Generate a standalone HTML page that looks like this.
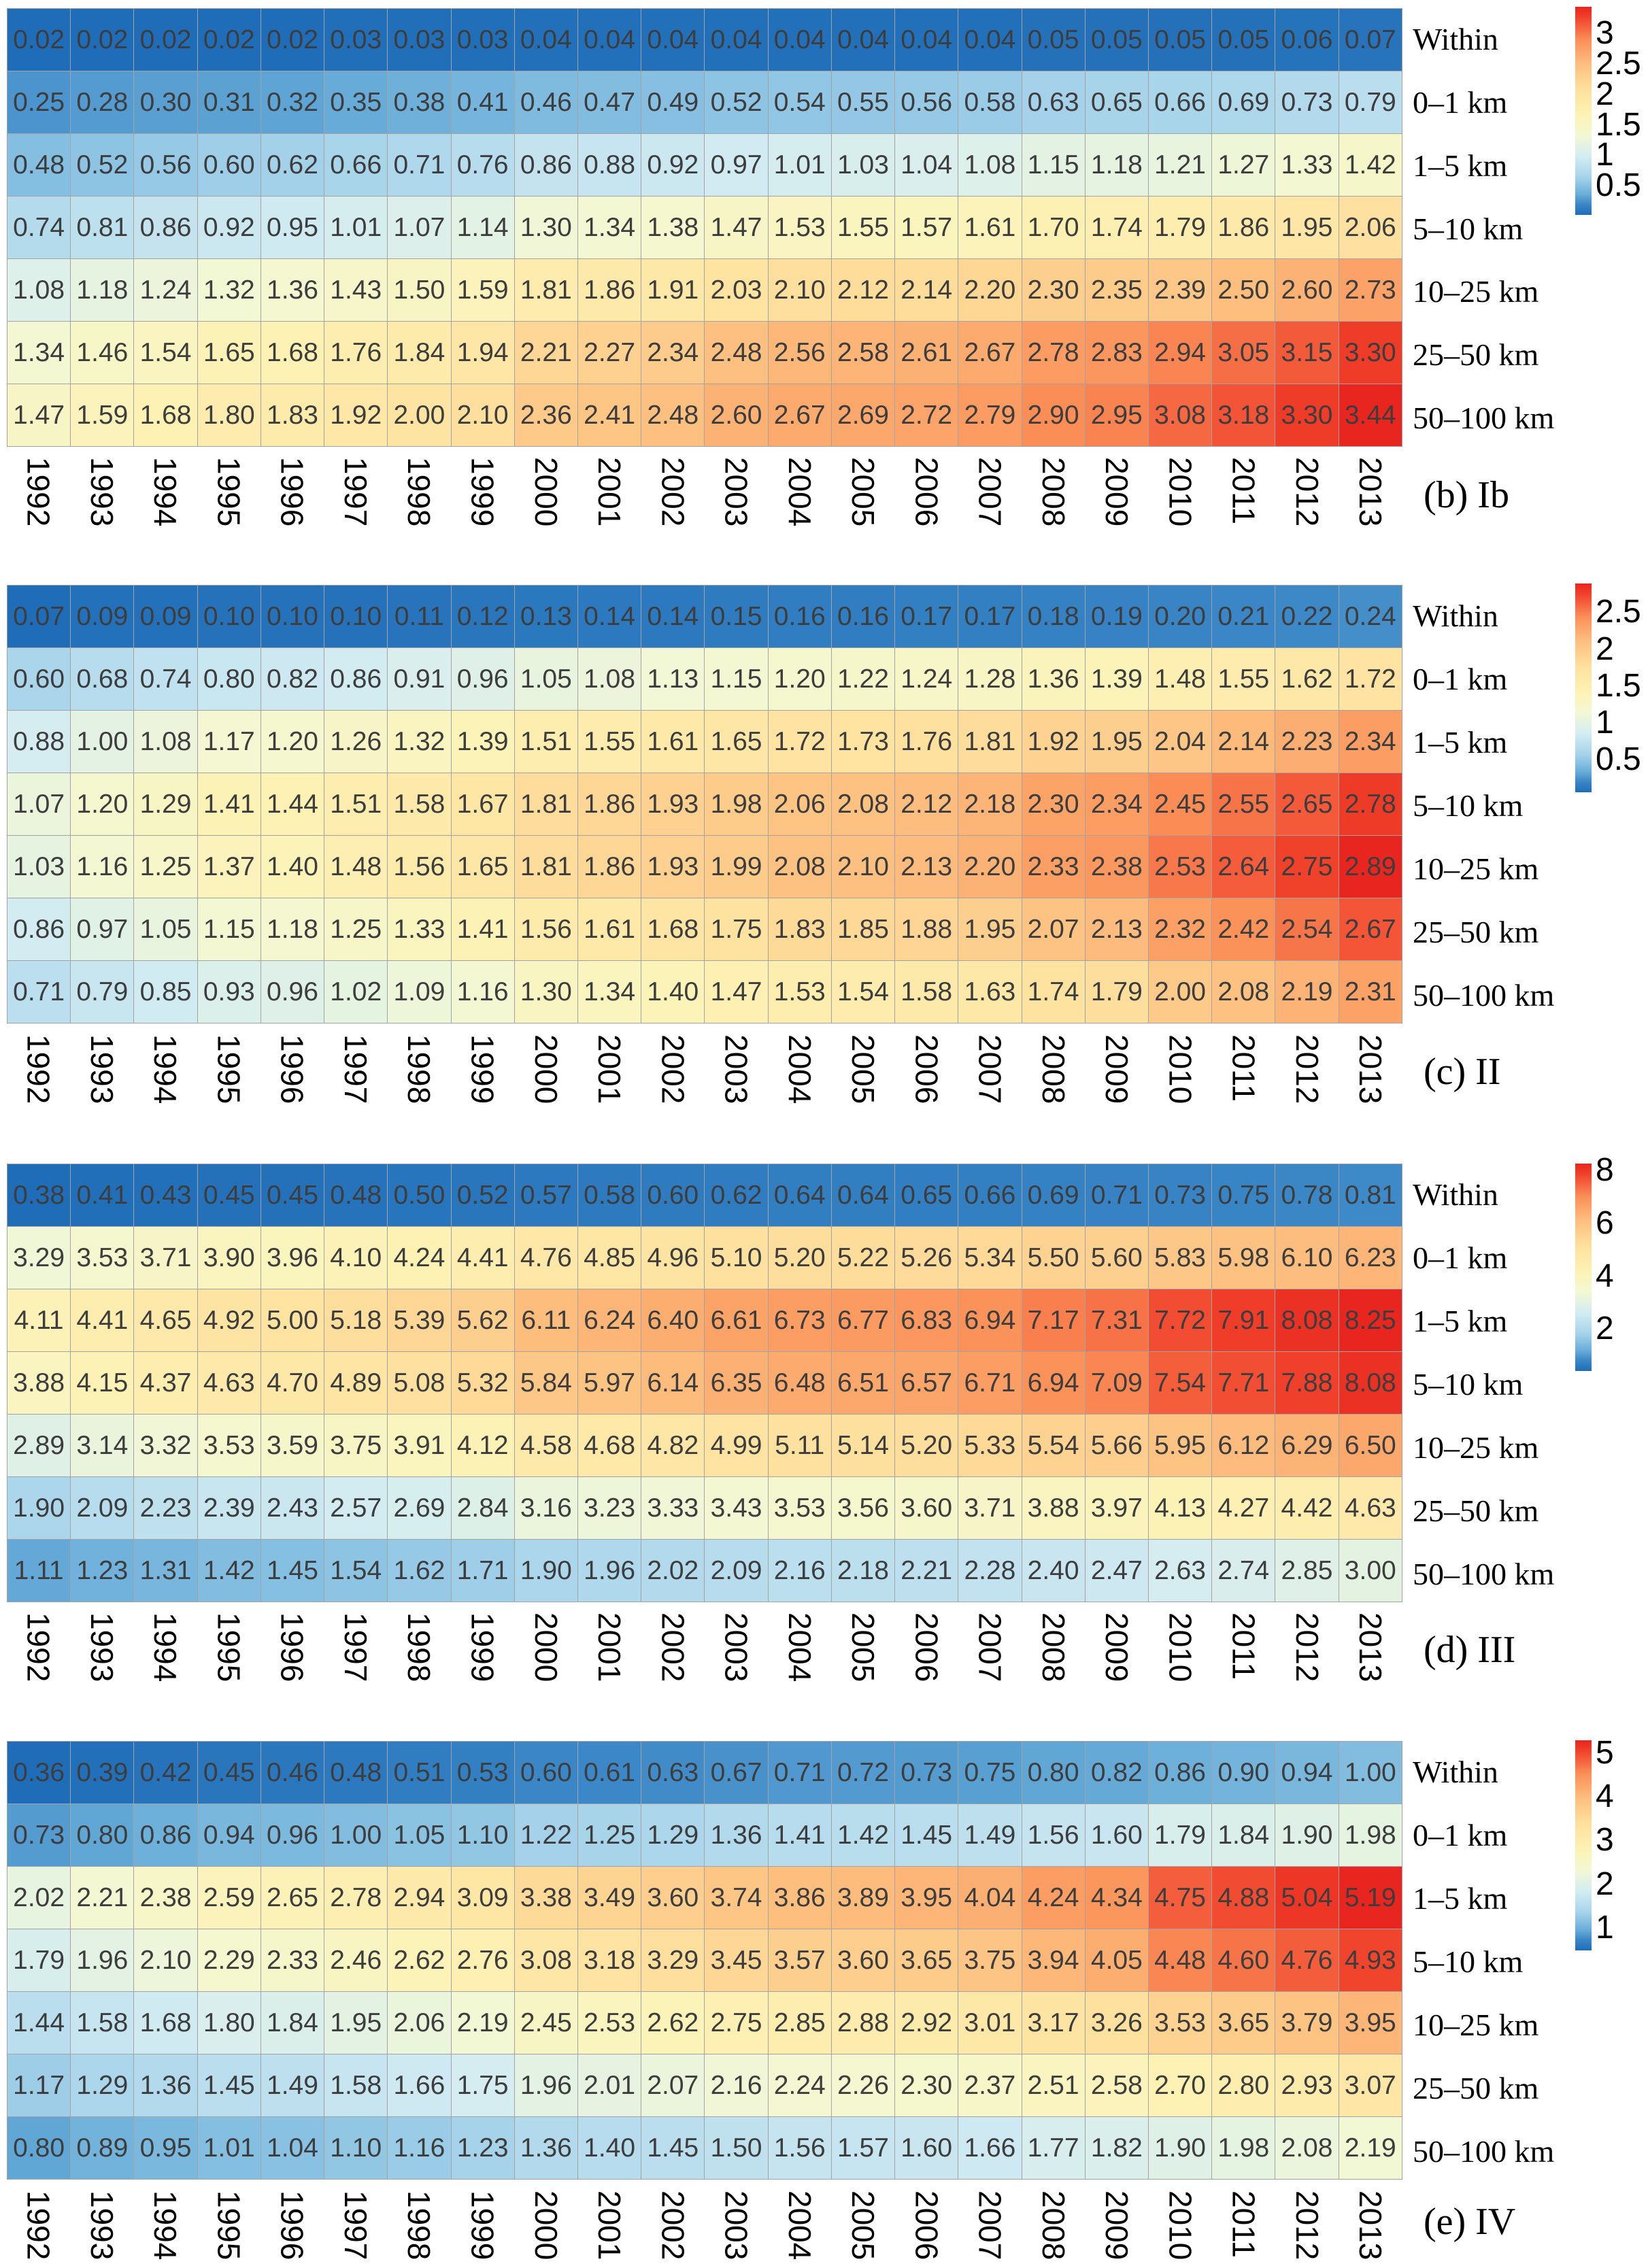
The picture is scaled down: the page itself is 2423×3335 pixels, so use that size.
<!DOCTYPE html>
<html><head><meta charset="utf-8">
<style>
html,body{margin:0;padding:0;background:#fff;}
body{width:2423px;height:3335px;position:relative;overflow:hidden;}
.grid{position:absolute;left:10px;width:2052px;border-collapse:collapse;table-layout:fixed;}
.grid td{border:1px solid #a3a3a3;height:91px;padding:0;text-align:center;vertical-align:middle;font-family:"Liberation Sans",sans-serif;font-size:39px;color:#3d3d3d;white-space:nowrap;overflow:hidden;}
.years{position:absolute;left:10px;width:2052px;display:flex;}
.years div{width:93.27px;display:flex;justify-content:center;}
.years span{writing-mode:vertical-rl;font-family:"Liberation Sans",sans-serif;font-size:46px;line-height:46px;color:#000;}
.rl{position:absolute;left:2077px;font-family:"Liberation Serif",serif;font-size:46px;line-height:50px;color:#000;white-space:nowrap;}
.pl{position:absolute;left:2093px;font-family:"Liberation Serif",serif;font-size:56px;line-height:60px;color:#000;white-space:nowrap;}
.cb{position:absolute;left:2316px;width:24px;background:linear-gradient(to top,#1f6db8 0%,#3a86c6 5%,#6aaed9 10%,#a6d3ea 18%,#d3ecf2 28%,#f3f8d4 38%,#fdf2b5 48%,#fee19f 60%,#fdc080 72%,#fb8f58 84%,#f0412b 95%,#e8251f 100%);}
.ct{position:absolute;left:2346px;font-family:"Liberation Sans",sans-serif;font-size:48px;line-height:44px;height:44px;color:#000;}
</style></head><body>

<!-- Panel 1 -->
<table class="grid" style="top:12px">
<tr><td>0.02</td><td>0.02</td><td>0.02</td><td>0.02</td><td>0.02</td><td>0.03</td><td>0.03</td><td>0.03</td><td>0.04</td><td>0.04</td><td>0.04</td><td>0.04</td><td>0.04</td><td>0.04</td><td>0.04</td><td>0.04</td><td>0.05</td><td>0.05</td><td>0.05</td><td>0.05</td><td>0.06</td><td>0.07</td></tr>
<tr><td>0.25</td><td>0.28</td><td>0.30</td><td>0.31</td><td>0.32</td><td>0.35</td><td>0.38</td><td>0.41</td><td>0.46</td><td>0.47</td><td>0.49</td><td>0.52</td><td>0.54</td><td>0.55</td><td>0.56</td><td>0.58</td><td>0.63</td><td>0.65</td><td>0.66</td><td>0.69</td><td>0.73</td><td>0.79</td></tr>
<tr><td>0.48</td><td>0.52</td><td>0.56</td><td>0.60</td><td>0.62</td><td>0.66</td><td>0.71</td><td>0.76</td><td>0.86</td><td>0.88</td><td>0.92</td><td>0.97</td><td>1.01</td><td>1.03</td><td>1.04</td><td>1.08</td><td>1.15</td><td>1.18</td><td>1.21</td><td>1.27</td><td>1.33</td><td>1.42</td></tr>
<tr><td>0.74</td><td>0.81</td><td>0.86</td><td>0.92</td><td>0.95</td><td>1.01</td><td>1.07</td><td>1.14</td><td>1.30</td><td>1.34</td><td>1.38</td><td>1.47</td><td>1.53</td><td>1.55</td><td>1.57</td><td>1.61</td><td>1.70</td><td>1.74</td><td>1.79</td><td>1.86</td><td>1.95</td><td>2.06</td></tr>
<tr><td>1.08</td><td>1.18</td><td>1.24</td><td>1.32</td><td>1.36</td><td>1.43</td><td>1.50</td><td>1.59</td><td>1.81</td><td>1.86</td><td>1.91</td><td>2.03</td><td>2.10</td><td>2.12</td><td>2.14</td><td>2.20</td><td>2.30</td><td>2.35</td><td>2.39</td><td>2.50</td><td>2.60</td><td>2.73</td></tr>
<tr><td>1.34</td><td>1.46</td><td>1.54</td><td>1.65</td><td>1.68</td><td>1.76</td><td>1.84</td><td>1.94</td><td>2.21</td><td>2.27</td><td>2.34</td><td>2.48</td><td>2.56</td><td>2.58</td><td>2.61</td><td>2.67</td><td>2.78</td><td>2.83</td><td>2.94</td><td>3.05</td><td>3.15</td><td>3.30</td></tr>
<tr><td>1.47</td><td>1.59</td><td>1.68</td><td>1.80</td><td>1.83</td><td>1.92</td><td>2.00</td><td>2.10</td><td>2.36</td><td>2.41</td><td>2.48</td><td>2.60</td><td>2.67</td><td>2.69</td><td>2.72</td><td>2.79</td><td>2.90</td><td>2.95</td><td>3.08</td><td>3.18</td><td>3.30</td><td>3.44</td></tr>
</table>
<div class="years" style="top:672px"><div><span>1992</span></div><div><span>1993</span></div><div><span>1994</span></div><div><span>1995</span></div><div><span>1996</span></div><div><span>1997</span></div><div><span>1998</span></div><div><span>1999</span></div><div><span>2000</span></div><div><span>2001</span></div><div><span>2002</span></div><div><span>2003</span></div><div><span>2004</span></div><div><span>2005</span></div><div><span>2006</span></div><div><span>2007</span></div><div><span>2008</span></div><div><span>2009</span></div><div><span>2010</span></div><div><span>2011</span></div><div><span>2012</span></div><div><span>2013</span></div></div>
<div class="rl" style="top:33px">Within</div>
<div class="rl" style="top:126px">0–1 km</div>
<div class="rl" style="top:219px">1–5 km</div>
<div class="rl" style="top:312px">5–10 km</div>
<div class="rl" style="top:404px">10–25 km</div>
<div class="rl" style="top:497px">25–50 km</div>
<div class="rl" style="top:590px">50–100 km</div>
<div class="pl" style="top:698px">(b) Ib</div>
<div class="cb" style="top:10px;height:306px"></div>
<div class="ct" style="top:27px">3</div>
<div class="ct" style="top:72px">2.5</div>
<div class="ct" style="top:117px">2</div>
<div class="ct" style="top:162px">1.5</div>
<div class="ct" style="top:206px">1</div>
<div class="ct" style="top:251px">0.5</div>

<!-- Panel 2 -->
<table class="grid" style="top:860px">
<tr><td>0.07</td><td>0.09</td><td>0.09</td><td>0.10</td><td>0.10</td><td>0.10</td><td>0.11</td><td>0.12</td><td>0.13</td><td>0.14</td><td>0.14</td><td>0.15</td><td>0.16</td><td>0.16</td><td>0.17</td><td>0.17</td><td>0.18</td><td>0.19</td><td>0.20</td><td>0.21</td><td>0.22</td><td>0.24</td></tr>
<tr><td>0.60</td><td>0.68</td><td>0.74</td><td>0.80</td><td>0.82</td><td>0.86</td><td>0.91</td><td>0.96</td><td>1.05</td><td>1.08</td><td>1.13</td><td>1.15</td><td>1.20</td><td>1.22</td><td>1.24</td><td>1.28</td><td>1.36</td><td>1.39</td><td>1.48</td><td>1.55</td><td>1.62</td><td>1.72</td></tr>
<tr><td>0.88</td><td>1.00</td><td>1.08</td><td>1.17</td><td>1.20</td><td>1.26</td><td>1.32</td><td>1.39</td><td>1.51</td><td>1.55</td><td>1.61</td><td>1.65</td><td>1.72</td><td>1.73</td><td>1.76</td><td>1.81</td><td>1.92</td><td>1.95</td><td>2.04</td><td>2.14</td><td>2.23</td><td>2.34</td></tr>
<tr><td>1.07</td><td>1.20</td><td>1.29</td><td>1.41</td><td>1.44</td><td>1.51</td><td>1.58</td><td>1.67</td><td>1.81</td><td>1.86</td><td>1.93</td><td>1.98</td><td>2.06</td><td>2.08</td><td>2.12</td><td>2.18</td><td>2.30</td><td>2.34</td><td>2.45</td><td>2.55</td><td>2.65</td><td>2.78</td></tr>
<tr><td>1.03</td><td>1.16</td><td>1.25</td><td>1.37</td><td>1.40</td><td>1.48</td><td>1.56</td><td>1.65</td><td>1.81</td><td>1.86</td><td>1.93</td><td>1.99</td><td>2.08</td><td>2.10</td><td>2.13</td><td>2.20</td><td>2.33</td><td>2.38</td><td>2.53</td><td>2.64</td><td>2.75</td><td>2.89</td></tr>
<tr><td>0.86</td><td>0.97</td><td>1.05</td><td>1.15</td><td>1.18</td><td>1.25</td><td>1.33</td><td>1.41</td><td>1.56</td><td>1.61</td><td>1.68</td><td>1.75</td><td>1.83</td><td>1.85</td><td>1.88</td><td>1.95</td><td>2.07</td><td>2.13</td><td>2.32</td><td>2.42</td><td>2.54</td><td>2.67</td></tr>
<tr><td>0.71</td><td>0.79</td><td>0.85</td><td>0.93</td><td>0.96</td><td>1.02</td><td>1.09</td><td>1.16</td><td>1.30</td><td>1.34</td><td>1.40</td><td>1.47</td><td>1.53</td><td>1.54</td><td>1.58</td><td>1.63</td><td>1.74</td><td>1.79</td><td>2.00</td><td>2.08</td><td>2.19</td><td>2.31</td></tr>
</table>
<div class="years" style="top:1521px"><div><span>1992</span></div><div><span>1993</span></div><div><span>1994</span></div><div><span>1995</span></div><div><span>1996</span></div><div><span>1997</span></div><div><span>1998</span></div><div><span>1999</span></div><div><span>2000</span></div><div><span>2001</span></div><div><span>2002</span></div><div><span>2003</span></div><div><span>2004</span></div><div><span>2005</span></div><div><span>2006</span></div><div><span>2007</span></div><div><span>2008</span></div><div><span>2009</span></div><div><span>2010</span></div><div><span>2011</span></div><div><span>2012</span></div><div><span>2013</span></div></div>
<div class="rl" style="top:881px">Within</div>
<div class="rl" style="top:974px">0–1 km</div>
<div class="rl" style="top:1067px">1–5 km</div>
<div class="rl" style="top:1160px">5–10 km</div>
<div class="rl" style="top:1253px">10–25 km</div>
<div class="rl" style="top:1346px">25–50 km</div>
<div class="rl" style="top:1439px">50–100 km</div>
<div class="pl" style="top:1546px">(c) II</div>
<div class="cb" style="top:858px;height:307px"></div>
<div class="ct" style="top:878px">2.5</div>
<div class="ct" style="top:933px">2</div>
<div class="ct" style="top:987px">1.5</div>
<div class="ct" style="top:1041px">1</div>
<div class="ct" style="top:1095px">0.5</div>

<!-- Panel 3 -->
<table class="grid" style="top:1711px">
<tr><td>0.38</td><td>0.41</td><td>0.43</td><td>0.45</td><td>0.45</td><td>0.48</td><td>0.50</td><td>0.52</td><td>0.57</td><td>0.58</td><td>0.60</td><td>0.62</td><td>0.64</td><td>0.64</td><td>0.65</td><td>0.66</td><td>0.69</td><td>0.71</td><td>0.73</td><td>0.75</td><td>0.78</td><td>0.81</td></tr>
<tr><td>3.29</td><td>3.53</td><td>3.71</td><td>3.90</td><td>3.96</td><td>4.10</td><td>4.24</td><td>4.41</td><td>4.76</td><td>4.85</td><td>4.96</td><td>5.10</td><td>5.20</td><td>5.22</td><td>5.26</td><td>5.34</td><td>5.50</td><td>5.60</td><td>5.83</td><td>5.98</td><td>6.10</td><td>6.23</td></tr>
<tr><td>4.11</td><td>4.41</td><td>4.65</td><td>4.92</td><td>5.00</td><td>5.18</td><td>5.39</td><td>5.62</td><td>6.11</td><td>6.24</td><td>6.40</td><td>6.61</td><td>6.73</td><td>6.77</td><td>6.83</td><td>6.94</td><td>7.17</td><td>7.31</td><td>7.72</td><td>7.91</td><td>8.08</td><td>8.25</td></tr>
<tr><td>3.88</td><td>4.15</td><td>4.37</td><td>4.63</td><td>4.70</td><td>4.89</td><td>5.08</td><td>5.32</td><td>5.84</td><td>5.97</td><td>6.14</td><td>6.35</td><td>6.48</td><td>6.51</td><td>6.57</td><td>6.71</td><td>6.94</td><td>7.09</td><td>7.54</td><td>7.71</td><td>7.88</td><td>8.08</td></tr>
<tr><td>2.89</td><td>3.14</td><td>3.32</td><td>3.53</td><td>3.59</td><td>3.75</td><td>3.91</td><td>4.12</td><td>4.58</td><td>4.68</td><td>4.82</td><td>4.99</td><td>5.11</td><td>5.14</td><td>5.20</td><td>5.33</td><td>5.54</td><td>5.66</td><td>5.95</td><td>6.12</td><td>6.29</td><td>6.50</td></tr>
<tr><td>1.90</td><td>2.09</td><td>2.23</td><td>2.39</td><td>2.43</td><td>2.57</td><td>2.69</td><td>2.84</td><td>3.16</td><td>3.23</td><td>3.33</td><td>3.43</td><td>3.53</td><td>3.56</td><td>3.60</td><td>3.71</td><td>3.88</td><td>3.97</td><td>4.13</td><td>4.27</td><td>4.42</td><td>4.63</td></tr>
<tr><td>1.11</td><td>1.23</td><td>1.31</td><td>1.42</td><td>1.45</td><td>1.54</td><td>1.62</td><td>1.71</td><td>1.90</td><td>1.96</td><td>2.02</td><td>2.09</td><td>2.16</td><td>2.18</td><td>2.21</td><td>2.28</td><td>2.40</td><td>2.47</td><td>2.63</td><td>2.74</td><td>2.85</td><td>3.00</td></tr>
</table>
<div class="years" style="top:2371px"><div><span>1992</span></div><div><span>1993</span></div><div><span>1994</span></div><div><span>1995</span></div><div><span>1996</span></div><div><span>1997</span></div><div><span>1998</span></div><div><span>1999</span></div><div><span>2000</span></div><div><span>2001</span></div><div><span>2002</span></div><div><span>2003</span></div><div><span>2004</span></div><div><span>2005</span></div><div><span>2006</span></div><div><span>2007</span></div><div><span>2008</span></div><div><span>2009</span></div><div><span>2010</span></div><div><span>2011</span></div><div><span>2012</span></div><div><span>2013</span></div></div>
<div class="rl" style="top:1732px">Within</div>
<div class="rl" style="top:1825px">0–1 km</div>
<div class="rl" style="top:1918px">1–5 km</div>
<div class="rl" style="top:2011px">5–10 km</div>
<div class="rl" style="top:2104px">10–25 km</div>
<div class="rl" style="top:2197px">25–50 km</div>
<div class="rl" style="top:2290px">50–100 km</div>
<div class="pl" style="top:2396px">(d) III</div>
<div class="cb" style="top:1711px;height:305px"></div>
<div class="ct" style="top:1699px">8</div>
<div class="ct" style="top:1777px">6</div>
<div class="ct" style="top:1855px">4</div>
<div class="ct" style="top:1932px">2</div>

<!-- Panel 4 -->
<table class="grid" style="top:2560px">
<tr><td>0.36</td><td>0.39</td><td>0.42</td><td>0.45</td><td>0.46</td><td>0.48</td><td>0.51</td><td>0.53</td><td>0.60</td><td>0.61</td><td>0.63</td><td>0.67</td><td>0.71</td><td>0.72</td><td>0.73</td><td>0.75</td><td>0.80</td><td>0.82</td><td>0.86</td><td>0.90</td><td>0.94</td><td>1.00</td></tr>
<tr><td>0.73</td><td>0.80</td><td>0.86</td><td>0.94</td><td>0.96</td><td>1.00</td><td>1.05</td><td>1.10</td><td>1.22</td><td>1.25</td><td>1.29</td><td>1.36</td><td>1.41</td><td>1.42</td><td>1.45</td><td>1.49</td><td>1.56</td><td>1.60</td><td>1.79</td><td>1.84</td><td>1.90</td><td>1.98</td></tr>
<tr><td>2.02</td><td>2.21</td><td>2.38</td><td>2.59</td><td>2.65</td><td>2.78</td><td>2.94</td><td>3.09</td><td>3.38</td><td>3.49</td><td>3.60</td><td>3.74</td><td>3.86</td><td>3.89</td><td>3.95</td><td>4.04</td><td>4.24</td><td>4.34</td><td>4.75</td><td>4.88</td><td>5.04</td><td>5.19</td></tr>
<tr><td>1.79</td><td>1.96</td><td>2.10</td><td>2.29</td><td>2.33</td><td>2.46</td><td>2.62</td><td>2.76</td><td>3.08</td><td>3.18</td><td>3.29</td><td>3.45</td><td>3.57</td><td>3.60</td><td>3.65</td><td>3.75</td><td>3.94</td><td>4.05</td><td>4.48</td><td>4.60</td><td>4.76</td><td>4.93</td></tr>
<tr><td>1.44</td><td>1.58</td><td>1.68</td><td>1.80</td><td>1.84</td><td>1.95</td><td>2.06</td><td>2.19</td><td>2.45</td><td>2.53</td><td>2.62</td><td>2.75</td><td>2.85</td><td>2.88</td><td>2.92</td><td>3.01</td><td>3.17</td><td>3.26</td><td>3.53</td><td>3.65</td><td>3.79</td><td>3.95</td></tr>
<tr><td>1.17</td><td>1.29</td><td>1.36</td><td>1.45</td><td>1.49</td><td>1.58</td><td>1.66</td><td>1.75</td><td>1.96</td><td>2.01</td><td>2.07</td><td>2.16</td><td>2.24</td><td>2.26</td><td>2.30</td><td>2.37</td><td>2.51</td><td>2.58</td><td>2.70</td><td>2.80</td><td>2.93</td><td>3.07</td></tr>
<tr><td>0.80</td><td>0.89</td><td>0.95</td><td>1.01</td><td>1.04</td><td>1.10</td><td>1.16</td><td>1.23</td><td>1.36</td><td>1.40</td><td>1.45</td><td>1.50</td><td>1.56</td><td>1.57</td><td>1.60</td><td>1.66</td><td>1.77</td><td>1.82</td><td>1.90</td><td>1.98</td><td>2.08</td><td>2.19</td></tr>
</table>
<div class="years" style="top:3221px"><div><span>1992</span></div><div><span>1993</span></div><div><span>1994</span></div><div><span>1995</span></div><div><span>1996</span></div><div><span>1997</span></div><div><span>1998</span></div><div><span>1999</span></div><div><span>2000</span></div><div><span>2001</span></div><div><span>2002</span></div><div><span>2003</span></div><div><span>2004</span></div><div><span>2005</span></div><div><span>2006</span></div><div><span>2007</span></div><div><span>2008</span></div><div><span>2009</span></div><div><span>2010</span></div><div><span>2011</span></div><div><span>2012</span></div><div><span>2013</span></div></div>
<div class="rl" style="top:2581px">Within</div>
<div class="rl" style="top:2674px">0–1 km</div>
<div class="rl" style="top:2767px">1–5 km</div>
<div class="rl" style="top:2860px">5–10 km</div>
<div class="rl" style="top:2953px">10–25 km</div>
<div class="rl" style="top:3046px">25–50 km</div>
<div class="rl" style="top:3139px">50–100 km</div>
<div class="pl" style="top:3237px">(e) IV</div>
<div class="cb" style="top:2559px;height:309px"></div>
<div class="ct" style="top:2556px">5</div>
<div class="ct" style="top:2620px">4</div>
<div class="ct" style="top:2684px">3</div>
<div class="ct" style="top:2749px">2</div>
<div class="ct" style="top:2813px">1</div>

<script>
var stops=[[0,[31,109,184]],[0.05,[58,134,198]],[0.1,[106,174,217]],[0.18,[166,211,234]],[0.28,[211,236,242]],[0.38,[243,248,212]],[0.48,[253,242,181]],[0.6,[254,225,159]],[0.72,[253,192,128]],[0.84,[251,143,88]],[0.95,[240,65,43]],[1,[232,37,31]]];
function col(t){t=Math.max(0,Math.min(1,t));for(var i=1;i<stops.length;i++){if(t<=stops[i][0]){var a=stops[i-1],b=stops[i],f=(t-a[0])/(b[0]-a[0]);var c=[0,1,2].map(function(k){return Math.round(a[1][k]+(b[1][k]-a[1][k])*f)});return 'rgb('+c.join(',')+')';}}return 'rgb(232,37,31)';}
document.querySelectorAll('table.grid').forEach(function(tb){var tds=tb.querySelectorAll('td');var v=[].map.call(tds,function(d){return parseFloat(d.textContent)});var mn=Math.min.apply(null,v),mx=Math.max.apply(null,v);tds.forEach(function(d,i){d.style.background=col((v[i]-mn)/(mx-mn));});});
</script>
</body></html>
